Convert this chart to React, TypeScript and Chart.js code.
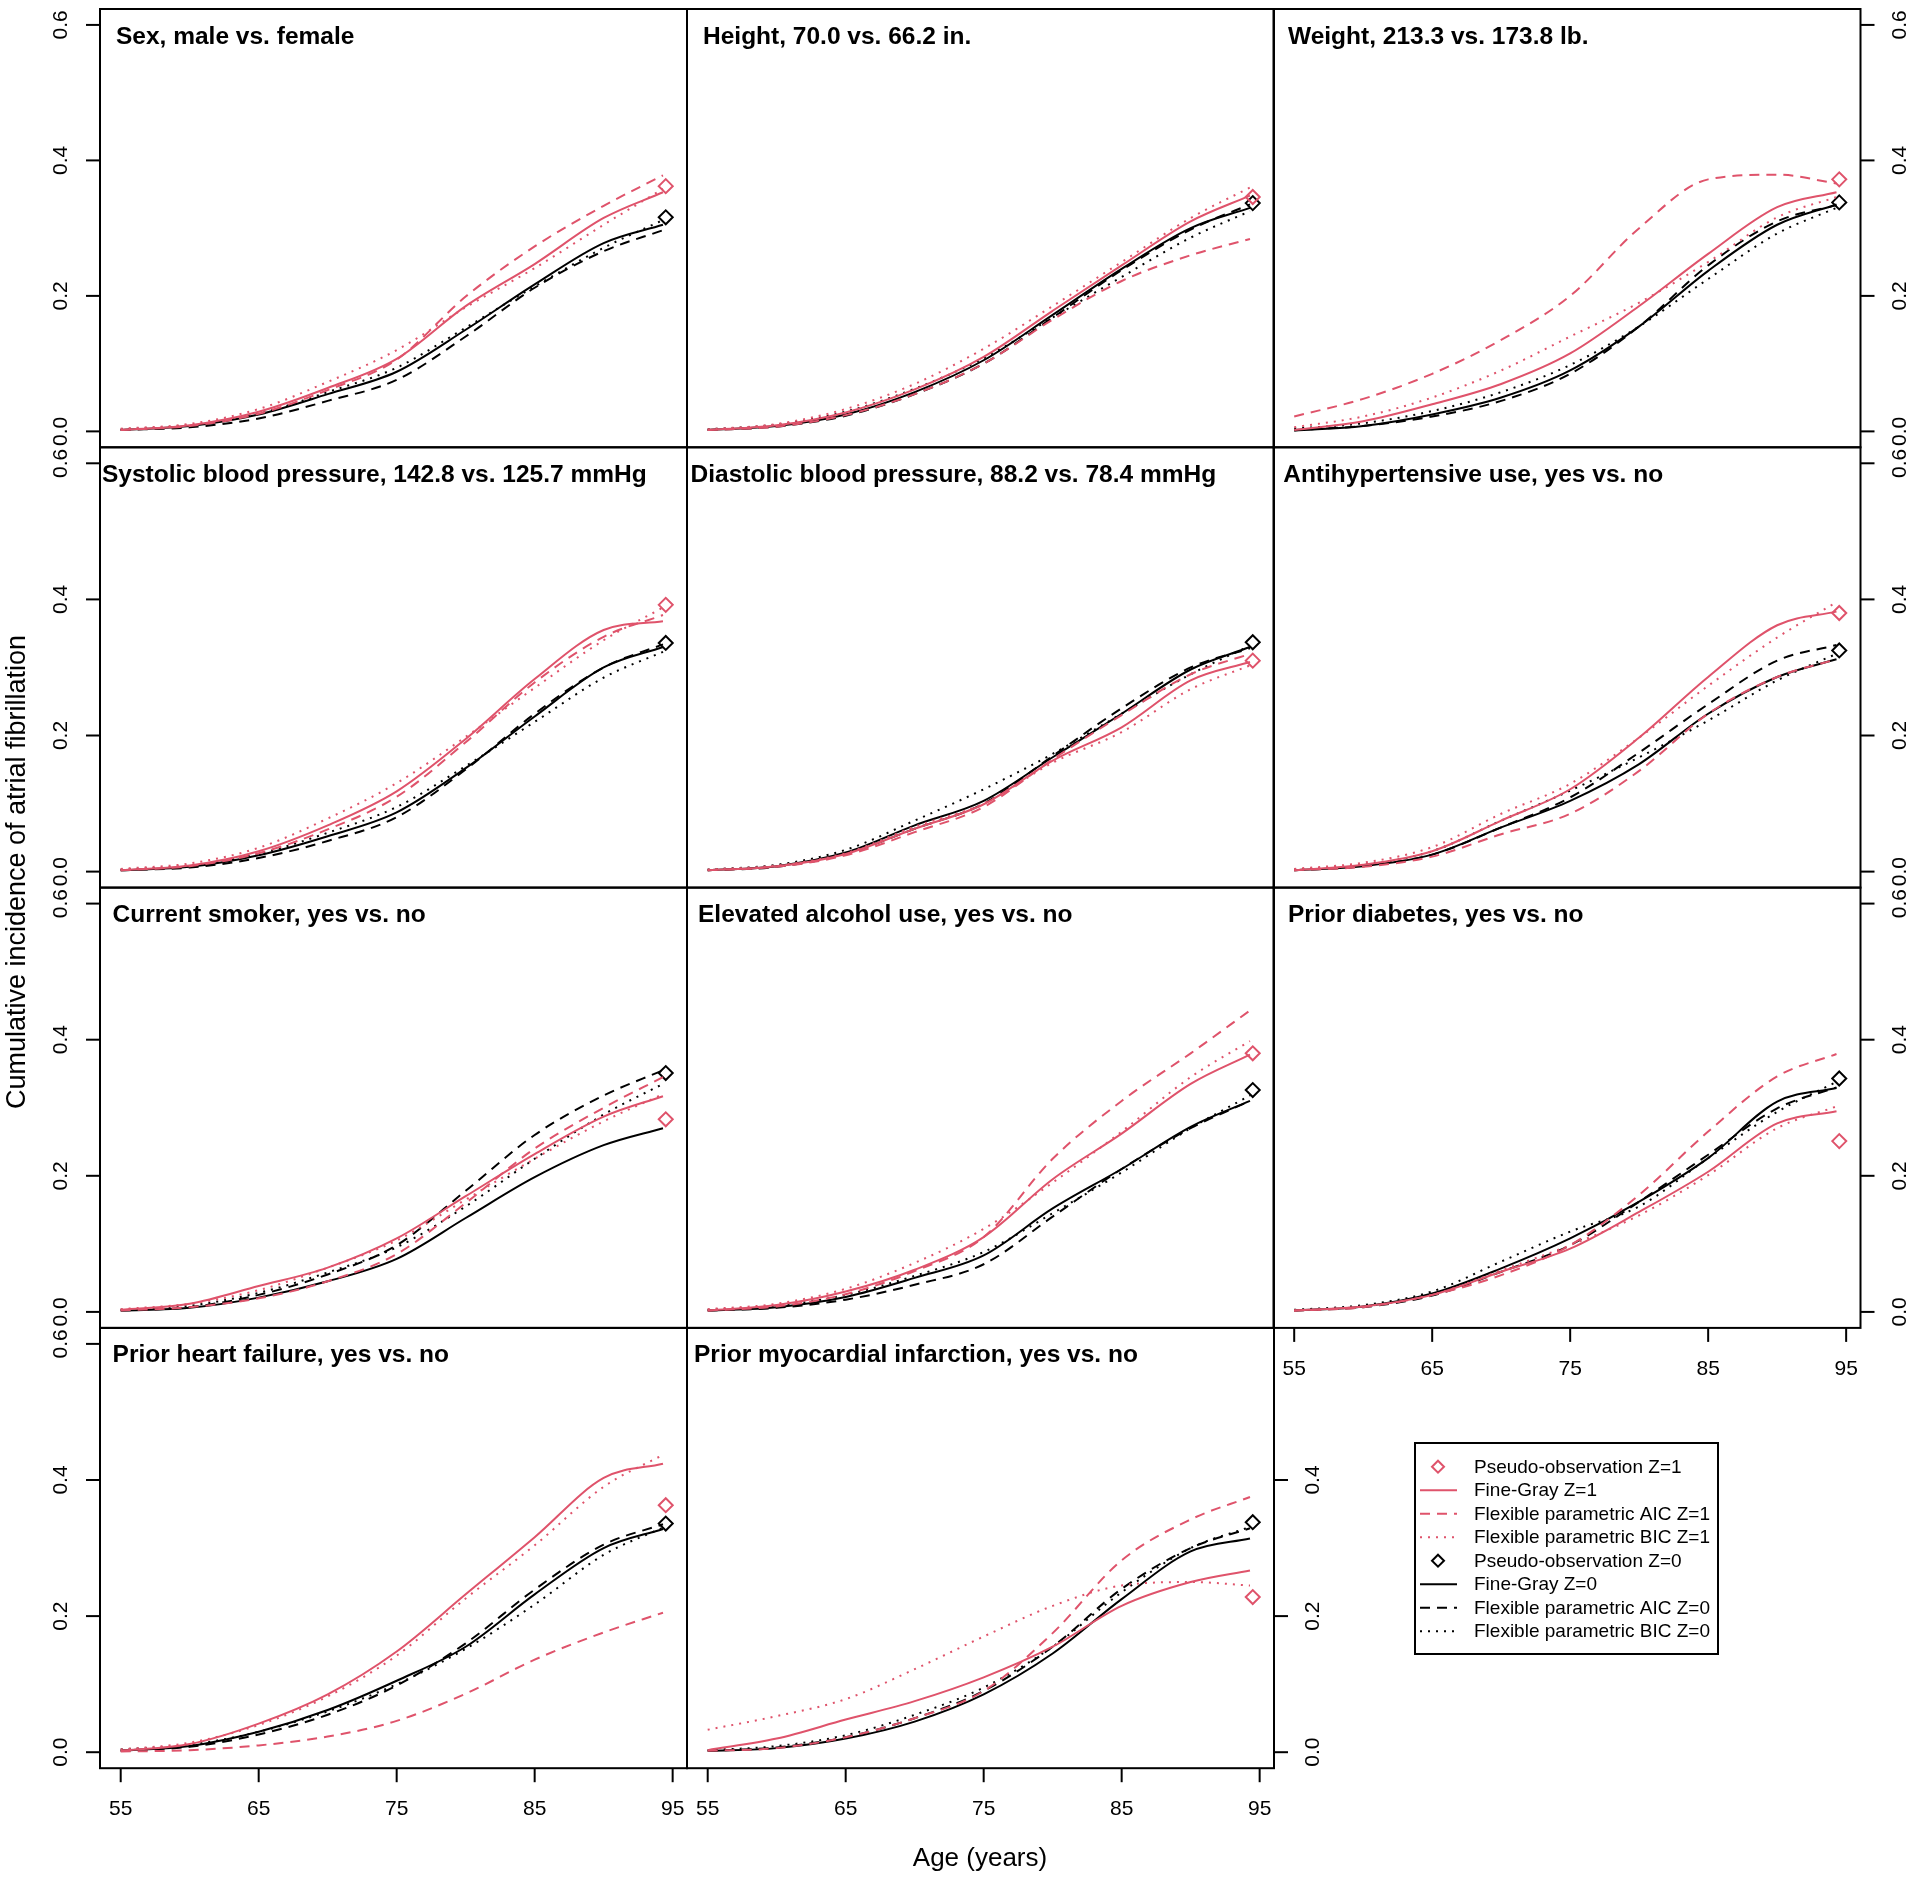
import React, { useEffect, useRef } from "react";
import { Chart, registerables } from "chart.js";

Chart.register(...registerables);

// ---------------- data ----------------
const AGES = [55, 60, 65, 70, 75, 80, 85, 90, 94.3];
const PSEUDO_AGE = 94.5;

const PANEL_TITLES = [
  "Sex, male vs. female",
  "Height, 70.0 vs. 66.2 in.",
  "Weight, 213.3 vs. 173.8 lb.",
  "Systolic blood pressure, 142.8 vs. 125.7 mmHg",
  "Diastolic blood pressure, 88.2 vs. 78.4 mmHg",
  "Antihypertensive use, yes vs. no",
  "Current smoker, yes vs. no",
  "Elevated alcohol use, yes vs. no",
  "Prior diabetes, yes vs. no",
  "Prior heart failure, yes vs. no",
  "Prior myocardial infarction, yes vs. no",
];

const FINE_GRAY_Z1 = [
  [0.002, 0.009, 0.029, 0.064, 0.107, 0.185, 0.247, 0.315, 0.353],
  [0.002, 0.009, 0.028, 0.062, 0.110, 0.178, 0.245, 0.310, 0.348],
  [0.002, 0.015, 0.040, 0.070, 0.115, 0.185, 0.262, 0.331, 0.353],
  [0.002, 0.009, 0.030, 0.068, 0.118, 0.195, 0.283, 0.355, 0.368],
  [0.002, 0.008, 0.026, 0.063, 0.099, 0.163, 0.212, 0.281, 0.308],
  [0.002, 0.010, 0.030, 0.075, 0.121, 0.197, 0.286, 0.362, 0.382],
  [0.003, 0.012, 0.038, 0.065, 0.108, 0.170, 0.232, 0.287, 0.317],
  [0.002, 0.010, 0.030, 0.062, 0.110, 0.195, 0.262, 0.335, 0.378],
  [0.002, 0.008, 0.025, 0.059, 0.093, 0.147, 0.206, 0.277, 0.295],
  [0.002, 0.012, 0.042, 0.085, 0.148, 0.232, 0.316, 0.403, 0.424],
  [0.003, 0.020, 0.048, 0.075, 0.110, 0.155, 0.215, 0.250, 0.267],
];

const FLEX_AIC_Z1 = [
  [0.002, 0.008, 0.026, 0.061, 0.106, 0.199, 0.273, 0.333, 0.378],
  [0.002, 0.007, 0.024, 0.055, 0.100, 0.165, 0.222, 0.260, 0.284],
  [0.022, 0.048, 0.085, 0.135, 0.200, 0.300, 0.372, 0.379, 0.366],
  [0.002, 0.008, 0.027, 0.062, 0.110, 0.190, 0.278, 0.345, 0.377],
  [0.002, 0.007, 0.024, 0.058, 0.095, 0.165, 0.230, 0.290, 0.320],
  [0.002, 0.007, 0.022, 0.055, 0.085, 0.148, 0.232, 0.286, 0.312],
  [0.002, 0.007, 0.020, 0.045, 0.085, 0.160, 0.240, 0.300, 0.345],
  [0.002, 0.008, 0.026, 0.060, 0.110, 0.225, 0.310, 0.380, 0.443],
  [0.002, 0.007, 0.025, 0.054, 0.098, 0.172, 0.265, 0.346, 0.379],
  [0.001, 0.003, 0.010, 0.023, 0.046, 0.086, 0.136, 0.176, 0.205],
  [0.002, 0.006, 0.022, 0.050, 0.090, 0.175, 0.282, 0.342, 0.375],
];

const FLEX_BIC_Z1 = [
  [0.004, 0.011, 0.033, 0.073, 0.120, 0.183, 0.241, 0.305, 0.358],
  [0.003, 0.011, 0.033, 0.070, 0.122, 0.185, 0.250, 0.315, 0.360],
  [0.006, 0.022, 0.050, 0.090, 0.140, 0.190, 0.250, 0.316, 0.346],
  [0.004, 0.012, 0.035, 0.078, 0.130, 0.198, 0.270, 0.340, 0.388],
  [0.003, 0.009, 0.027, 0.066, 0.100, 0.160, 0.205, 0.268, 0.303],
  [0.004, 0.013, 0.036, 0.085, 0.129, 0.197, 0.273, 0.344, 0.396],
  [0.004, 0.012, 0.032, 0.065, 0.105, 0.165, 0.225, 0.280, 0.320],
  [0.004, 0.012, 0.034, 0.072, 0.122, 0.190, 0.265, 0.345, 0.398],
  [0.002, 0.008, 0.025, 0.061, 0.098, 0.142, 0.201, 0.270, 0.302],
  [0.004, 0.014, 0.040, 0.082, 0.142, 0.226, 0.304, 0.390, 0.437],
  [0.033, 0.053, 0.078, 0.122, 0.170, 0.215, 0.245, 0.250, 0.245],
];

const FINE_GRAY_Z0 = [
  [0.002, 0.008, 0.025, 0.055, 0.088, 0.150, 0.217, 0.278, 0.305],
  [0.002, 0.008, 0.025, 0.058, 0.105, 0.172, 0.240, 0.300, 0.330],
  [0.001, 0.008, 0.025, 0.050, 0.090, 0.155, 0.237, 0.305, 0.335],
  [0.002, 0.007, 0.024, 0.052, 0.087, 0.152, 0.228, 0.300, 0.330],
  [0.002, 0.008, 0.028, 0.068, 0.104, 0.168, 0.232, 0.297, 0.330],
  [0.002, 0.008, 0.025, 0.065, 0.104, 0.158, 0.232, 0.286, 0.312],
  [0.002, 0.006, 0.021, 0.045, 0.078, 0.138, 0.198, 0.245, 0.270],
  [0.002, 0.007, 0.022, 0.050, 0.083, 0.152, 0.210, 0.272, 0.310],
  [0.002, 0.008, 0.027, 0.064, 0.108, 0.162, 0.226, 0.309, 0.329],
  [0.002, 0.009, 0.030, 0.062, 0.105, 0.155, 0.232, 0.300, 0.328],
  [0.002, 0.006, 0.020, 0.045, 0.085, 0.145, 0.225, 0.295, 0.314],
];

const FLEX_AIC_Z0 = [
  [0.002, 0.006, 0.019, 0.045, 0.076, 0.140, 0.212, 0.266, 0.297],
  [0.002, 0.007, 0.023, 0.055, 0.100, 0.168, 0.238, 0.298, 0.335],
  [0.002, 0.008, 0.022, 0.045, 0.085, 0.155, 0.245, 0.310, 0.334],
  [0.002, 0.006, 0.020, 0.045, 0.080, 0.150, 0.232, 0.300, 0.334],
  [0.002, 0.007, 0.026, 0.063, 0.100, 0.170, 0.240, 0.300, 0.328],
  [0.002, 0.008, 0.025, 0.065, 0.109, 0.175, 0.246, 0.310, 0.333],
  [0.002, 0.007, 0.025, 0.055, 0.098, 0.178, 0.260, 0.318, 0.355],
  [0.002, 0.006, 0.018, 0.040, 0.070, 0.140, 0.210, 0.270, 0.310],
  [0.002, 0.007, 0.024, 0.059, 0.098, 0.162, 0.231, 0.299, 0.330],
  [0.002, 0.008, 0.026, 0.055, 0.098, 0.160, 0.239, 0.305, 0.335],
  [0.002, 0.007, 0.022, 0.050, 0.090, 0.155, 0.240, 0.300, 0.329],
];

const FLEX_BIC_Z0 = [
  [0.003, 0.009, 0.026, 0.058, 0.094, 0.153, 0.214, 0.271, 0.312],
  [0.003, 0.010, 0.029, 0.063, 0.108, 0.168, 0.228, 0.286, 0.325],
  [0.004, 0.012, 0.030, 0.058, 0.098, 0.155, 0.225, 0.292, 0.330],
  [0.003, 0.009, 0.026, 0.057, 0.095, 0.155, 0.220, 0.285, 0.323],
  [0.003, 0.010, 0.032, 0.075, 0.121, 0.173, 0.232, 0.290, 0.332],
  [0.003, 0.010, 0.030, 0.075, 0.119, 0.168, 0.222, 0.281, 0.320],
  [0.003, 0.009, 0.028, 0.058, 0.095, 0.155, 0.225, 0.290, 0.335],
  [0.003, 0.009, 0.025, 0.053, 0.088, 0.145, 0.205, 0.270, 0.318],
  [0.003, 0.010, 0.030, 0.074, 0.118, 0.155, 0.226, 0.294, 0.338],
  [0.004, 0.011, 0.030, 0.060, 0.100, 0.152, 0.217, 0.290, 0.330],
  [0.003, 0.009, 0.025, 0.055, 0.095, 0.155, 0.235, 0.300, 0.331],
];

const PSEUDO_Z1 = [0.362, 0.346, 0.372, 0.392, 0.310, 0.380, 0.283, 0.380, 0.251, 0.363, 0.228];
const PSEUDO_Z0 = [0.316, 0.337, 0.338, 0.336, 0.337, 0.325, 0.351, 0.326, 0.343, 0.336, 0.338];

const Y_TICKS = [0, 0.2, 0.4, 0.6];
const Y_TICKS_SHORT = [0, 0.2, 0.4];
const X_TICKS = [55, 65, 75, 85, 95];

const LEGEND_LABELS = [
  "Pseudo-observation Z=1",
  "Fine-Gray Z=1",
  "Flexible parametric AIC Z=1",
  "Flexible parametric BIC Z=1",
  "Pseudo-observation Z=0",
  "Fine-Gray Z=0",
  "Flexible parametric AIC Z=0",
  "Flexible parametric BIC Z=0",
];

const X_TITLE = "Age (years)";
const Y_TITLE = "Cumulative incidence of atrial fibrillation";

// ---------------- layout / style ----------------
const PAGE_W = 1920;
const PAGE_H = 1882;
const COL_LEFT = [100, 687, 1273.5];
const PANEL_W = 587;
const ROW_TOP = [7, 447.3, 887.6, 1327.9];
const PANEL_H = 440.3;
const X_MIN = 53.5;
const X_MAX = 96.04;
const Y_MIN = -0.0235;
const Y_MAX = 0.6235;
const TITLE_DX = [16, 16, 14.5, 2, 3.6, 9.7, 12.6, 11, 14.5, 12.6, 7];

const RED = "#DF536B";
const BLACK = "#000000";
const FONT = "'Liberation Sans', Arial, Helvetica, sans-serif";
const DASHED = [10, 7];
const DOTTED = [2, 6];

const SERIES_STYLE = [
  { color: RED, kind: "point", dash: [] as number[] },
  { color: RED, kind: "line", dash: [] as number[] },
  { color: RED, kind: "line", dash: DASHED },
  { color: RED, kind: "line", dash: DOTTED },
  { color: BLACK, kind: "point", dash: [] as number[] },
  { color: BLACK, kind: "line", dash: [] as number[] },
  { color: BLACK, kind: "line", dash: DASHED },
  { color: BLACK, kind: "line", dash: DOTTED },
];

type Region = { x: number; y: number; w: number; h: number };

function regionFor(i: number): Region {
  const col = i % 3;
  const row = Math.floor(i / 3);
  let x0 = Math.max(0, Math.floor(COL_LEFT[col] - 100));
  let x1 = Math.min(PAGE_W, Math.ceil(COL_LEFT[col] + PANEL_W + 100));
  let y0 = Math.max(0, Math.floor(ROW_TOP[row] - 10));
  let y1 = Math.min(PAGE_H, Math.ceil(ROW_TOP[row] + PANEL_H + 70));
  if (i === 3) {
    x0 = 0;
    y0 = 0;
    y1 = PAGE_H;
  }
  if (i === 10) {
    x1 = PAGE_W;
    y1 = PAGE_H;
  }
  return { x: x0, y: y0, w: x1 - x0, h: y1 - y0 };
}

const REGIONS = PANEL_TITLES.map((_, i) => regionFor(i));

function seriesValues(i: number): (number[] | number)[] {
  return [
    PSEUDO_Z1[i],
    FINE_GRAY_Z1[i],
    FLEX_AIC_Z1[i],
    FLEX_BIC_Z1[i],
    PSEUDO_Z0[i],
    FINE_GRAY_Z0[i],
    FLEX_AIC_Z0[i],
    FLEX_BIC_Z0[i],
  ];
}

function drawDiamond(ctx: CanvasRenderingContext2D, x: number, y: number, r: number, color: string) {
  ctx.save();
  ctx.strokeStyle = color;
  ctx.lineWidth = 2;
  ctx.setLineDash([]);
  ctx.beginPath();
  ctx.moveTo(x, y - r);
  ctx.lineTo(x + r, y);
  ctx.lineTo(x, y + r);
  ctx.lineTo(x - r, y);
  ctx.closePath();
  ctx.stroke();
  ctx.restore();
}

function makeChart(canvas: HTMLCanvasElement, i: number): Chart {
  const col = i % 3;
  const row = Math.floor(i / 3);
  const reg = REGIONS[i];
  const boxLeft = COL_LEFT[col];
  const boxTop = ROW_TOP[row];
  const padding = {
    left: boxLeft - reg.x,
    top: boxTop - reg.y,
    right: reg.x + reg.w - (boxLeft + PANEL_W),
    bottom: reg.y + reg.h - (boxTop + PANEL_H),
  };
  const axisLeft = col === 0;
  const axisRight = col === 2 || i === 10;
  const rightTicks = i === 10 ? Y_TICKS_SHORT : Y_TICKS;
  const axisBottom = row === 3 || i === 8;

  const values = seriesValues(i);
  const datasets: any[] = values.map((vals, k) => {
    const st = SERIES_STYLE[k];
    if (st.kind === "point") {
      return {
        label: LEGEND_LABELS[k],
        data: [{ x: PSEUDO_AGE, y: vals as number }],
        showLine: false,
        pointStyle: "rectRot",
        pointRadius: 7,
        pointBorderWidth: 2,
        pointBorderColor: st.color,
        pointBackgroundColor: "rgba(0,0,0,0)",
        borderColor: st.color,
        backgroundColor: "rgba(0,0,0,0)",
      };
    }
    return {
      label: LEGEND_LABELS[k],
      data: (vals as number[]).map((v, j) => ({ x: AGES[j], y: v })),
      borderColor: st.color,
      backgroundColor: st.color,
      borderWidth: 2,
      borderDash: st.dash,
      pointRadius: 0,
      cubicInterpolationMode: "monotone",
      fill: false,
    };
  });

  const decor = {
    id: "decor" + i,
    afterDraw(chart: any) {
      const ctx: CanvasRenderingContext2D = chart.ctx;
      const a = chart.chartArea;
      const xs = chart.scales.x;
      const ys = chart.scales.y;
      ctx.save();
      ctx.setLineDash([]);
      ctx.strokeStyle = "#000";
      ctx.fillStyle = "#000";
      ctx.lineWidth = 2;
      ctx.strokeRect(a.left, a.top, a.right - a.left, a.bottom - a.top);

      ctx.font = `21px ${FONT}`;
      ctx.textAlign = "center";
      ctx.textBaseline = "middle";
      const drawRot = (txt: string, x: number, y: number) => {
        ctx.save();
        ctx.translate(x, y);
        ctx.rotate(-Math.PI / 2);
        ctx.fillText(txt, 0, 0);
        ctx.restore();
      };
      if (axisLeft) {
        Y_TICKS.forEach((v) => {
          const y = ys.getPixelForValue(v);
          ctx.beginPath();
          ctx.moveTo(a.left - 14, y);
          ctx.lineTo(a.left, y);
          ctx.stroke();
          drawRot(v.toFixed(1), a.left - 38.5, y);
        });
      }
      if (axisRight) {
        rightTicks.forEach((v) => {
          const y = ys.getPixelForValue(v);
          ctx.beginPath();
          ctx.moveTo(a.right, y);
          ctx.lineTo(a.right + 14, y);
          ctx.stroke();
          drawRot(v.toFixed(1), a.right + 39.5, y);
        });
      }
      if (axisBottom) {
        X_TICKS.forEach((v) => {
          const x = xs.getPixelForValue(v);
          ctx.beginPath();
          ctx.moveTo(x, a.bottom);
          ctx.lineTo(x, a.bottom + 14);
          ctx.stroke();
          ctx.fillText(String(v), x, a.bottom + 41);
        });
      }

      // panel title
      ctx.font = `bold 24.5px ${FONT}`;
      ctx.textAlign = "left";
      ctx.textBaseline = "alphabetic";
      ctx.fillText(PANEL_TITLES[i], a.left + TITLE_DX[i], a.top + 34.5);

      // outer axis titles
      if (i === 3) {
        ctx.font = `27px ${FONT}`;
        ctx.textAlign = "center";
        ctx.textBaseline = "middle";
        drawRot(Y_TITLE, 18 - reg.x, 872 - reg.y);
      }
      if (i === 10) {
        ctx.font = `26px ${FONT}`;
        ctx.textAlign = "center";
        ctx.textBaseline = "middle";
        ctx.fillText(X_TITLE, 980 - reg.x, 1859 - reg.y);

        // legend
        const bx = 1415 - reg.x;
        const by = 1443 - reg.y;
        ctx.lineWidth = 2;
        ctx.strokeRect(bx, by, 303, 211);
        ctx.font = `19px ${FONT}`;
        ctx.textAlign = "left";
        ctx.textBaseline = "middle";
        chart.data.datasets.forEach((ds: any, k: number) => {
          const st = SERIES_STYLE[k];
          const y = 1466.7 + k * 23.5 - reg.y;
          if (st.kind === "point") {
            drawDiamond(ctx, 1438 - reg.x, y, 6, st.color);
          } else {
            ctx.save();
            ctx.strokeStyle = st.color;
            ctx.lineWidth = 2;
            ctx.setLineDash(st.dash);
            ctx.beginPath();
            ctx.moveTo(1420 - reg.x, y);
            ctx.lineTo(1457 - reg.x, y);
            ctx.stroke();
            ctx.restore();
          }
          ctx.fillStyle = "#000";
          ctx.fillText(ds.label, 1474 - reg.x, y + 1);
        });
      }
      ctx.restore();
    },
  };

  return new Chart(canvas, {
    type: "line",
    data: { datasets },
    options: {
      animation: false,
      responsive: false,
      devicePixelRatio: 1,
      events: [],
      parsing: false as any,
      layout: { padding },
      scales: {
        x: { type: "linear", min: X_MIN, max: X_MAX, display: false },
        y: { type: "linear", min: Y_MIN, max: Y_MAX, display: false },
      },
      plugins: {
        legend: { display: false },
        tooltip: { enabled: false },
        title: { display: false },
      },
    },
    plugins: [decor],
  } as any);
}

export default function App() {
  const refs = useRef<(HTMLCanvasElement | null)[]>([]);

  useEffect(() => {
    document.body.style.margin = "0";
    const charts = REGIONS.map((_, i) => makeChart(refs.current[i] as HTMLCanvasElement, i));
    return () => charts.forEach((c) => c.destroy());
  }, []);

  return (
    <div
      style={{
        position: "absolute",
        left: 0,
        top: 0,
        width: PAGE_W,
        height: PAGE_H,
        background: "#ffffff",
        overflow: "hidden",
      }}
    >
      {REGIONS.map((r, i) => (
        <canvas
          key={i}
          ref={(el) => {
            refs.current[i] = el;
          }}
          width={r.w}
          height={r.h}
          style={{ position: "absolute", left: r.x, top: r.y, width: r.w, height: r.h }}
        />
      ))}
    </div>
  );
}
